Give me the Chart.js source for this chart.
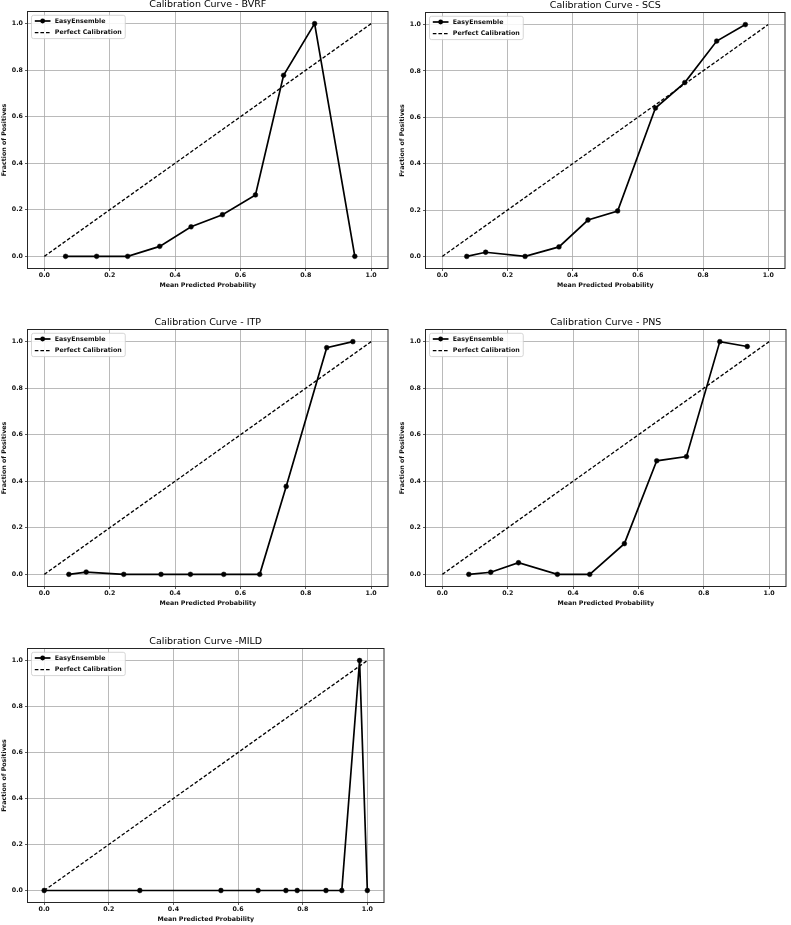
<!DOCTYPE html>
<html><head><meta charset="utf-8">
<script src="https://cdn.jsdelivr.net/npm/chart.js@4/dist/chart.umd.min.js"></script>
<style>
html,body{margin:0;padding:0;background:#fff;width:791px;height:925px;overflow:hidden;position:relative}
canvas{position:absolute}
</style></head><body>
<canvas id="c0"></canvas><canvas id="c1"></canvas><canvas id="c2"></canvas><canvas id="c3"></canvas><canvas id="c4"></canvas>
<script>
// ---- data ----
const tickValues = [0.0, 0.2, 0.4, 0.6, 0.8, 1.0];
const perfectX = [0, 1];
const perfectY = [0, 1];
const titles = ['Calibration Curve - BVRF', 'Calibration Curve - SCS', 'Calibration Curve - ITP', 'Calibration Curve - PNS', 'Calibration Curve -MILD'];
const seriesLabel = 'EasyEnsemble';
const perfectLabel = 'Perfect Calibration';
const xLabel = 'Mean Predicted Probability';
const yLabel = 'Fraction of Positives';

const bvrfX = [0.065, 0.160, 0.255, 0.353, 0.449, 0.545, 0.646, 0.732, 0.827, 0.950];
const bvrfY = [0.000, 0.000, 0.000, 0.043, 0.127, 0.179, 0.264, 0.778, 1.000, 0.000];
const scsX  = [0.075, 0.133, 0.254, 0.358, 0.447, 0.538, 0.654, 0.744, 0.842, 0.930];
const scsY  = [0.000, 0.018, 0.000, 0.041, 0.157, 0.196, 0.640, 0.750, 0.929, 1.000];
const itpX  = [0.075, 0.128, 0.243, 0.357, 0.447, 0.549, 0.659, 0.740, 0.864, 0.944];
const itpY  = [0.000, 0.010, 0.000, 0.000, 0.000, 0.000, 0.000, 0.378, 0.974, 1.000];
const pnsX  = [0.081, 0.148, 0.233, 0.352, 0.451, 0.557, 0.656, 0.747, 0.849, 0.933];
const pnsY  = [0.000, 0.009, 0.050, 0.000, 0.000, 0.132, 0.488, 0.506, 1.000, 0.979];
const mildX = [0.000, 0.296, 0.547, 0.662, 0.748, 0.783, 0.872, 0.921, 0.976, 1.000];
const mildY = [0.000, 0.000, 0.000, 0.000, 0.000, 0.000, 0.000, 0.000, 1.000, 0.000];

// ---- layout (canvas placement) ----
const panels = [
  {id:'c0', xs:bvrfX, ys:bvrfY, left:0,   top:-1,  w:392, h:291},
  {id:'c1', xs:scsX,  ys:scsY,  left:398, top:0,   w:391, h:290},
  {id:'c2', xs:itpX,  ys:itpY,  left:0,   top:317, w:392, h:291},
  {id:'c3', xs:pnsX,  ys:pnsY,  left:398, top:317, w:392, h:291},
  {id:'c4', xs:mildX, ys:mildY, left:0,   top:636, w:388, h:288}
];

const SMALL = {size: 6.3, weight: 'bold'};
Chart.defaults.font.family = '"DejaVu Sans", sans-serif';
Chart.defaults.color = '#111';

const frameLegend = {
  id: 'frameLegend',
  afterDraw(chart, args, opts) {
    const ctx = chart.ctx, a = chart.chartArea;
    ctx.save();
    // axes frame (all four spines)
    ctx.strokeStyle = '#262626';
    ctx.lineWidth = 1;
    ctx.strokeRect(a.left - 0.5, a.top - 0.5, a.right - a.left + 1, a.bottom - a.top + 1);
    // title centred over the axes
    ctx.font = '9.5px "DejaVu Sans"';
    ctx.fillStyle = '#000';
    ctx.textAlign = 'center';
    ctx.textBaseline = 'middle';
    ctx.fillText(opts.text, (a.left + a.right) / 2, a.top - 7.2);
    // legend
    const ds = chart.data.datasets;
    ctx.font = 'bold 6.3px "DejaVu Sans"';
    const tw = Math.max(...ds.map(d => ctx.measureText(d.label).width));
    const bx = a.left + 3.5, by = a.top + 3.3, bw = 23.3 + tw + 3.5, bh = 23.3;
    ctx.beginPath();
    ctx.roundRect(bx, by, bw, bh, 2);
    ctx.fillStyle = 'rgba(255,255,255,0.85)';
    ctx.fill();
    ctx.strokeStyle = '#cccccc';
    ctx.lineWidth = 0.8;
    ctx.stroke();
    ds.forEach((d, i) => {
      const cy = by + 5.7 + i * 11.6;
      ctx.beginPath();
      ctx.setLineDash(d.borderDash || []);
      ctx.strokeStyle = d.borderColor;
      ctx.lineWidth = d.borderWidth;
      ctx.moveTo(bx + 3.3, cy); ctx.lineTo(bx + 19, cy);
      ctx.stroke();
      ctx.setLineDash([]);
      if (d.pointRadius > 0) {
        ctx.beginPath();
        ctx.arc(bx + 11.15, cy, d.pointRadius, 0, Math.PI * 2);
        ctx.fillStyle = d.pointBackgroundColor;
        ctx.fill();
      }
      ctx.fillStyle = '#111';
      ctx.textBaseline = 'middle';
      ctx.textAlign = 'left';
      ctx.fillText(d.label, bx + 23.3, cy);
    });
    ctx.restore();
  }
};

function setTicks(scale) { scale.ticks = tickValues.map(v => ({value: v})); }
const fmt = v => Number(v).toFixed(1);

panels.forEach((p, idx) => {
  const cv = document.getElementById(p.id);
  cv.width = p.w; cv.height = p.h;
  cv.style.left = p.left + 'px'; cv.style.top = p.top + 'px';
  cv.style.width = p.w + 'px'; cv.style.height = p.h + 'px';
  new Chart(cv, {
    type: 'line',
    data: {
      datasets: [
        {label: seriesLabel, data: p.xs.map((x, i) => ({x: x, y: p.ys[i]})),
         borderColor: '#000', backgroundColor: '#000', borderWidth: 1.7,
         pointRadius: 2.4, pointBackgroundColor: '#000', pointBorderColor: '#000', pointBorderWidth: 0.5,
         tension: 0, fill: false},
        {label: perfectLabel, data: perfectX.map((x, i) => ({x: x, y: perfectY[i]})),
         borderColor: '#000', borderWidth: 1.3, borderDash: [3.6, 2],
         pointRadius: 0, pointBackgroundColor: '#000', tension: 0, fill: false}
      ]
    },
    options: {
      responsive: false, animation: false, devicePixelRatio: 1,
      layout: {padding: {left: 0, right: 2, top: 13, bottom: 0}},
      plugins: {
        legend: {display: false}, tooltip: {enabled: false}, title: {display: false},
        frameLegend: {text: titles[idx]}
      },
      scales: {
        x: {type: 'linear', min: -0.05, max: 1.05, afterBuildTicks: setTicks,
            afterFit: s => { s.height = 22; },
            grid: {color: '#a8a8a8', lineWidth: 0.8, tickLength: 3, tickColor: '#333', drawTicks: true},
            border: {display: false},
            ticks: {callback: fmt, font: SMALL, padding: 0.3, maxRotation: 0, autoSkip: false, color: '#111'},
            title: {display: true, text: xLabel, font: SMALL, padding: {top: 0, bottom: 1.2}, color: '#111'}},
        y: {type: 'linear', min: -0.05, max: 1.05, afterBuildTicks: setTicks,
            afterFit: s => { s.width = 28; },
            grid: {color: '#a8a8a8', lineWidth: 0.8, tickLength: 3, tickColor: '#333', drawTicks: true},
            border: {display: false},
            ticks: {callback: fmt, font: SMALL, padding: 2, autoSkip: false, color: '#111'},
            title: {display: true, text: yLabel, font: SMALL, padding: {top: 0.9, bottom: 0}, color: '#111'}}
      }
    },
    plugins: [frameLegend]
  });
});
</script>
</body></html>
